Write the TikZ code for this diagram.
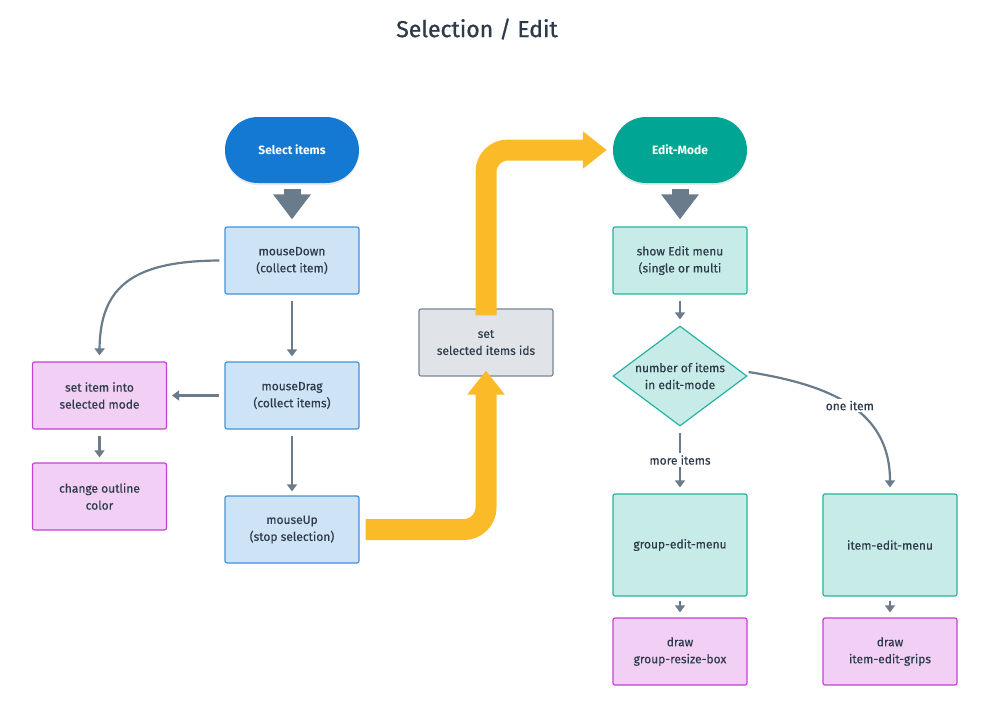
\documentclass[tikz,border=0pt]{standalone}
\usepackage{fontspec}
\setmainfont{Fira Sans}
\newfontfamily\medfont[FakeBold=0.35]{Fira Sans}
\newfontfamily\titlefont[FakeBold=0.9]{Fira Sans}
\usetikzlibrary{arrows.meta,shapes.geometric,shapes.misc,shadows}
\definecolor{txt}{HTML}{2C3A4A}
\definecolor{arr}{HTML}{6A7B8B}
\definecolor{bluepill}{HTML}{1479D2}
\definecolor{tealpill}{HTML}{00A693}
\definecolor{bluefill}{HTML}{CFE3F6}
\definecolor{blueline}{HTML}{4292DA}
\definecolor{magfill}{HTML}{F2D0F5}
\definecolor{magline}{HTML}{C740D5}
\definecolor{tealfill}{HTML}{C7ECE8}
\definecolor{tealline}{HTML}{27B2A1}
\definecolor{greyfill}{HTML}{E0E4E9}
\definecolor{greyline}{HTML}{7A8590}
\definecolor{yel}{HTML}{FBBB28}
\tikzset{
  base/.style={font=\medfont\fontsize{12}{17}\selectfont, text=txt, align=center, inner sep=0pt},
  pill/.style={base, rounded rectangle, minimum width=134pt, minimum height=66pt, text=white,
     font=\fontsize{12}{17}\selectfont\bfseries, drop shadow={opacity=0.18, shadow xshift=0pt, shadow yshift=-2pt}},
  box/.style={base, rectangle, rounded corners=2pt, minimum width=134pt, minimum height=67pt, line width=1.2pt},
  bluebox/.style={box, fill=bluefill, draw=blueline},
  magbox/.style={box, fill=magfill, draw=magline},
  tealbox/.style={box, fill=tealfill, draw=tealline},
  greybox/.style={box, fill=greyfill, draw=greyline},
  conn/.style={draw=arr, line width=2.2pt, -{Triangle[length=7pt,width=10pt]}},
  lbl/.style={base, fill=white, inner sep=2pt},
  block/.style={draw=arr, line width=17pt, -{Triangle[length=25pt,width=36pt]}},
  yarrow/.style={draw=yel, line width=21pt, rounded corners=22pt, -{Triangle[length=24pt,width=36pt]}},
}
\begin{document}
\begin{tikzpicture}[x=1pt,y=-1pt]
\useasboundingbox (0,0) rectangle (991,721);
\node[base, font=\titlefont\fontsize{23}{26}\selectfont] (title) at (477,29) {Selection / Edit};

\node[pill, fill=bluepill] (sel) at (292,150) {Select items};
\node[bluebox] (down) at (292,260.5) {mouseDown\\(collect item)};
\node[bluebox] (drag) at (292,395.5) {mouseDrag\\(collect items)};
\node[bluebox] (up) at (292,529.5) {mouseUp\\(stop selection)};
\node[magbox] (setitem) at (99.5,395.5) {set item into\\selected mode};
\node[magbox] (outline) at (99.5,496.5) {change outline\\color};
\node[greybox] (ids) at (486,342.5) {set\\selected items ids};

\node[pill, fill=tealpill] (edit) at (680,150) {Edit-Mode};
\node[tealbox] (show) at (680,260.5) {show Edit menu\\(single or multi};
\node[base, diamond, aspect=1.34, minimum width=134pt, minimum height=100pt, fill=tealfill, draw=tealline, line width=1.2pt] (num) at (680,376) {number of items\\in edit-mode};
\node[tealbox, minimum height=102pt] (group) at (680,545) {group-edit-menu};
\node[tealbox, minimum height=102pt] (item) at (890,545) {item-edit-menu};
\node[magbox] (gbox) at (680,651.5) {draw\\group-resize-box};
\node[magbox] (grips) at (890,651.5) {draw\\item-edit-grips};

% block arrows
\draw[block] ([yshift=-6pt]sel.south) -- ([yshift=7pt]down.north);
\draw[block] ([yshift=-6pt]edit.south) -- ([yshift=7pt]show.north);

% connectors
\draw[conn] ([yshift=-6pt]down.south) -- ([yshift=5pt]drag.north);
\draw[conn] ([yshift=-6pt]drag.south) -- ([yshift=4pt]up.north);
\draw[conn] ([xshift=-5pt]drag.west) -- ([xshift=5pt]setitem.east);
\draw[conn] ([yshift=-6pt]setitem.south) -- ([yshift=5pt]outline.north);
\draw[conn] ([xshift=-5pt]down.west) .. controls (135,261) and (100,285) .. ([yshift=6pt]setitem.north);

\draw[conn] ([yshift=-6pt]show.south) -- ([yshift=6pt]num.north);
\draw[conn] ([yshift=-6pt]num.south) -- node[lbl] {more items} ([yshift=6pt]group.north);
\draw[conn] ([xshift=1pt,yshift=4pt]num.east) .. controls (830,385) and (890,410) .. node[lbl, pos=0.5] {one item} ([yshift=6pt]item.north);
\draw[conn] ([yshift=-4pt]group.south) -- ([yshift=5pt]gbox.north);
\draw[conn] ([yshift=-4pt]item.south) -- ([yshift=5pt]grips.north);

% yellow arrows
\draw[yarrow] ([xshift=6pt]up.east) -- (ids.south |- up.east) -- ([yshift=6pt]ids.south);
\draw[yarrow] ([yshift=-7pt]ids.north) -- (ids.north |- edit.west) -- ([xshift=-6pt]edit.west);
\end{tikzpicture}
\end{document}
